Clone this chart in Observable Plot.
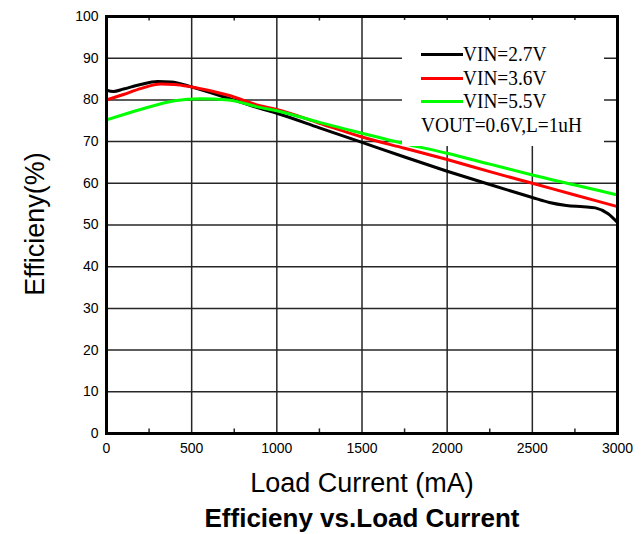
<!DOCTYPE html>
<html>
<head>
<meta charset="utf-8">
<script src="https://cdn.jsdelivr.net/npm/d3@7"></script>
<script src="https://cdn.jsdelivr.net/npm/@observablehq/plot@0.6"></script>
<style>
  body { margin: 0; background: #fff; }
  #chart { position: relative; width: 643px; height: 534px; }
  #legend { position: absolute; left: 402px; top: 20px; width: 202px; height: 126px; background: #fff;
            font-family: "Liberation Serif", "DejaVu Serif", serif; color: #000; }
  .row { position: absolute; left: 19px; height: 24px; display: flex; align-items: center; }
  .sw { width: 42px; height: 3px; }
  .lbl { font-size: 21px; line-height: 1; white-space: nowrap; transform: scaleX(0.92); transform-origin: left center; }
</style>
</head>
<body>
<div id="chart"></div>
<script>
// Efficiency vs load current, VOUT = 0.6 V, L = 1 uH
const seriesNames = ["VIN=2.7V", "VIN=3.6V", "VIN=5.5V"];
const seriesColors = ["#000000", "#ff0000", "#00ff00"];
const noteText = "VOUT=0.6V,L=1uH";

const vin27Current = [0, 40, 100, 200, 300, 380, 500, 700, 900, 1000, 1250, 1500, 1750, 2000, 2250, 2500, 2600, 2700, 2800, 2870, 2945, 3000];
const vin27Eff     = [82.3, 82.0, 82.6, 83.7, 84.4, 84.3, 83.1, 80.6, 78.0, 76.8, 73.3, 69.8, 66.3, 62.9, 59.7, 56.6, 55.4, 54.7, 54.4, 54.1, 52.7, 50.6];

const vin36Current = [0, 100, 200, 320, 400, 500, 716, 900, 1000, 1250, 1500, 1750, 2000, 2250, 2500, 2750, 3000];
const vin36Eff     = [80.0, 81.3, 82.7, 83.8, 83.7, 83.1, 81.1, 78.6, 77.7, 74.4, 71.1, 68.4, 65.7, 62.8, 60.0, 57.2, 54.4];

const vin55Current = [0, 200, 400, 550, 716, 900, 1000, 1250, 1500, 1750, 2000, 2250, 2500, 2750, 3000];
const vin55Eff     = [75.2, 77.7, 79.8, 80.3, 80.0, 78.2, 77.4, 74.6, 72.0, 69.5, 67.2, 64.6, 62.0, 59.6, 57.2];

const xTicks = [0, 500, 1000, 1500, 2000, 2500, 3000];
const xGrid = [500, 1000, 1500, 2000, 2500];
const xMinor = [250, 750, 1250, 1750, 2250, 2750];
const yTicks = [0, 10, 20, 30, 40, 50, 60, 70, 80, 90, 100];
const yGrid = [10, 20, 30, 40, 50, 60, 70, 80, 90];

const xLabel = "Load Current (mA)";
const yLabel = "Efficieny(%)";
const title = "Efficieny vs.Load Current";

const rows = [
  ...vin27Current.map((c, i) => ({series: seriesNames[0], current: c, eff: vin27Eff[i]})),
  ...vin36Current.map((c, i) => ({series: seriesNames[1], current: c, eff: vin36Eff[i]})),
  ...vin55Current.map((c, i) => ({series: seriesNames[2], current: c, eff: vin55Eff[i]}))
];

const gridStyle = {stroke: "#262626", strokeWidth: 1.5};

const chart = Plot.plot({
  width: 643,
  height: 534,
  marginLeft: 106,
  marginRight: 26,
  marginTop: 16,
  marginBottom: 101,
  style: {fontFamily: "'Liberation Sans', Arial, sans-serif", fontSize: "14px", background: "#fff", color: "#000"},
  x: {domain: [0, 3000]},
  y: {domain: [0, 100]},
  color: {domain: seriesNames, range: seriesColors},
  marks: [
    Plot.ruleX(xGrid, gridStyle),
    Plot.ruleY(yGrid, gridStyle),
    Plot.ruleX(xMinor, {y1: 0, y2: 1.1, ...gridStyle}),
    Plot.ruleX(xMinor, {y1: 98.9, y2: 100, ...gridStyle}),
    Plot.line(rows, {x: "current", y: "eff", z: "series", stroke: "series", curve: "monotone-x", strokeWidth: 3}),
    Plot.frame({stroke: "#000", strokeWidth: 3}),
    Plot.axisX({ticks: xTicks, tickSize: 0, tickPadding: 10, tickFormat: "d", label: null, fontSize: 14}),
    Plot.axisY({ticks: yTicks, tickSize: 0, tickPadding: 8, tickFormat: "d", label: null, fontSize: 14}),
    Plot.text([xLabel], {frameAnchor: "bottom", dy: 50, lineAnchor: "middle", fontSize: 27}),
    Plot.text([title], {frameAnchor: "bottom", dy: 85, lineAnchor: "middle", fontSize: 26, fontWeight: "bold"}),
    Plot.text([yLabel], {frameAnchor: "left", textAnchor: "middle", lineAnchor: "middle", rotate: -90, dx: -71, dy: -1, fontSize: 27})
  ]
});

const holder = document.getElementById("chart");
holder.appendChild(chart);

// In-plot legend box
const legend = document.createElement("div");
legend.id = "legend";
const rowTops = [22, 46, 69, 93];
seriesNames.forEach((name, i) => {
  const row = document.createElement("div");
  row.className = "row";
  row.style.top = rowTops[i] + "px";
  const sw = document.createElement("div");
  sw.className = "sw";
  sw.style.background = seriesColors[i];
  const lbl = document.createElement("span");
  lbl.className = "lbl";
  lbl.textContent = name;
  row.appendChild(sw);
  row.appendChild(lbl);
  legend.appendChild(row);
});
const note = document.createElement("div");
note.className = "row";
note.style.top = rowTops[3] + "px";
const noteLbl = document.createElement("span");
noteLbl.className = "lbl";
noteLbl.textContent = noteText;
note.appendChild(noteLbl);
legend.appendChild(note);
holder.appendChild(legend);
</script>
</body>
</html>
